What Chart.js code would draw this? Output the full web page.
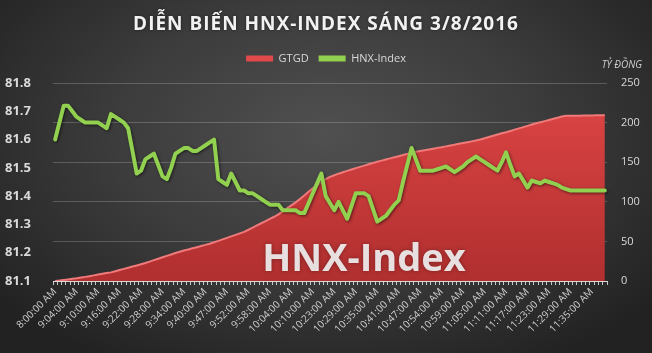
<!DOCTYPE html>
<html>
<head>
<meta charset="utf-8">
<script src="https://cdn.jsdelivr.net/npm/chart.js@4.4.1/dist/chart.umd.min.js"></script>
<style>
  html, body { margin: 0; padding: 0; }
  #wrap {
    width: 652px; height: 353px;
    background: radial-gradient(ellipse 65% 75% at 50% 38%, #505050 0%, #3c3c3c 50%, #222222 100%);
  }
</style>
</head>
<body>
<div id="wrap"><canvas id="chart" width="652" height="353"></canvas></div>
<script>
const chartTitle = "DIỄN BIẾN HNX-INDEX SÁNG 3/8/2016";

const tickLabels = ["8:00:00 AM", "9:04:00 AM", "9:10:00 AM", "9:16:00 AM", "9:22:00 AM", "9:28:00 AM",
  "9:34:00 AM", "9:40:00 AM", "9:47:00 AM", "9:52:00 AM", "9:58:00 AM", "10:04:00 AM", "10:10:00 AM",
  "10:23:00 AM", "10:29:00 AM", "10:35:00 AM", "10:41:00 AM", "10:47:00 AM", "10:54:00 AM", "10:59:00 AM",
  "11:05:00 AM", "11:11:00 AM", "11:17:00 AM", "11:23:00 AM", "11:29:00 AM", "11:35:00 AM"];

// GTGD, ty dong (right axis)
const gtgd = [0, 0.5, 1.2, 2, 2.7, 3.4, 4.3, 5.2, 6.1, 7.1,
  8.1, 9.1, 10, 10.9, 12.4, 13.8, 15.3, 16.7, 18.2, 19.6,
  21.1, 22.7, 24.5, 26.3, 28.1, 29.9, 31.7, 33.5, 35.3, 36.9,
  38.4, 39.8, 41.3, 42.7, 44.2, 45.6, 47.1, 48.9, 50.7, 52.6,
  54.5, 56.3, 58.2, 60.1, 62, 64.7, 67.4, 70.2, 72.9, 75.6,
  78.4, 81.1, 84.1, 88, 91.7, 95.5, 99.3, 103.4, 108, 112.6,
  117, 121, 125, 128.5, 131.5, 133.5, 135.5, 137.3, 139, 140.8,
  142.5, 144.1, 145.7, 147.4, 149, 150.6, 152, 153.4, 154.8, 156.2,
  157.6, 159, 160.4, 161.8, 163.1, 164.1, 165.1, 166.1, 167.1, 168.1,
  169, 170, 171, 172.1, 173.2, 174.2, 175.3, 176.3, 177.4, 178.7,
  180.3, 181.8, 183.4, 184.9, 186.5, 187.9, 189.5, 191.1, 192.7, 194.3,
  195.9, 197.5, 199.1, 200.5, 201.9, 203.3, 204.8, 206.2, 207.6, 208.5,
  208.6, 208.7, 208.8, 208.9, 209, 209.1, 209.2, 209.3, 209.4];

// HNX-Index (left axis)
const hnxIndex = [81.60, 81.66, 81.72, 81.72, 81.70, 81.68, 81.67, 81.66, 81.66, 81.66,
  81.66, 81.65, 81.64, 81.69, 81.68, 81.67, 81.66, 81.64, 81.56, 81.48,
  81.49, 81.53, 81.54, 81.55, 81.51, 81.47, 81.46, 81.50, 81.55, 81.56,
  81.57, 81.57, 81.56, 81.56, 81.57, 81.58, 81.59, 81.60, 81.46, 81.45,
  81.44, 81.48, 81.45, 81.42, 81.42, 81.41, 81.41, 81.40, 81.39, 81.38,
  81.37, 81.37, 81.37, 81.35, 81.35, 81.35, 81.35, 81.34, 81.34, 81.375,
  81.41, 81.445, 81.48, 81.40, 81.375, 81.35, 81.38, 81.35, 81.32, 81.365,
  81.41, 81.41, 81.41, 81.40, 81.355, 81.31, 81.32, 81.33, 81.35, 81.37,
  81.385, 81.45, 81.51, 81.57, 81.53, 81.49, 81.49, 81.49, 81.49, 81.495,
  81.50, 81.505, 81.495, 81.485, 81.495, 81.505, 81.52, 81.53, 81.54, 81.53,
  81.52, 81.51, 81.50, 81.49, 81.52, 81.555, 81.51, 81.47, 81.48, 81.455,
  81.43, 81.455, 81.45, 81.445, 81.455, 81.45, 81.445, 81.44, 81.43, 81.425,
  81.42, 81.42, 81.42, 81.42, 81.42, 81.42, 81.42, 81.42, 81.42];

const indexRange = [81.1, 81.8];
const valueRange = [0, 250];

// one time label every 5 points
const categories = gtgd.map((_, i) => i % 5 === 0 ? tickLabels[i / 5] : "");

const FONT = "'Open Sans', sans-serif";

const overlayText = {
  id: "overlayText",
  beforeInit(chart) {
    // extra room under the legend
    const fit = chart.legend.fit;
    chart.legend.fit = function () {
      fit.call(this);
      this.height += 9;
    };
  },
  beforeDatasetDraw(chart, args) {
    if (args.index === 1) {
      const ctx = chart.ctx;
      ctx.save();
      ctx.shadowColor = "rgba(0,0,0,0.55)";
      ctx.shadowBlur = 3;
      ctx.shadowOffsetX = 1;
      ctx.shadowOffsetY = 1;
    }
  },
  afterDatasetDraw(chart, args) {
    if (args.index === 1) chart.ctx.restore();
    if (args.index === 0) {
      // watermark sits on the red area, under the index line
      const ctx = chart.ctx;
      ctx.save();
      ctx.font = "bold 38px " + FONT;
      ctx.textAlign = "center";
      ctx.textBaseline = "alphabetic";
      ctx.shadowColor = "rgba(0,0,0,0.35)";
      ctx.shadowBlur = 4;
      ctx.fillStyle = "rgba(240,240,240,0.92)";
      ctx.fillText("HNX-Index", 364, 271);
      ctx.restore();
    }
  },
  afterDraw(chart) {
    const ctx = chart.ctx;
    ctx.save();
    ctx.font = "bold 19px " + FONT;
    ctx.letterSpacing = "1px";
    ctx.fillStyle = "#f2f2f2";
    ctx.textAlign = "center";
    ctx.textBaseline = "middle";
    ctx.shadowColor = "rgba(0,0,0,0.5)";
    ctx.shadowBlur = 3;
    ctx.fillText(chartTitle, 326, 25);
    ctx.restore();

    ctx.save();
    ctx.font = "italic 10px " + FONT;
    ctx.fillStyle = "#d0d0d0";
    ctx.textAlign = "right";
    ctx.textBaseline = "middle";
    ctx.fillText("TỶ ĐỒNG", 642, 65);
    ctx.restore();
  }
};

new Chart(document.getElementById("chart"), {
  type: "line",
  data: {
    labels: categories,
    datasets: [{
      label: "GTGD",
      data: gtgd,
      yAxisID: "y1",
      order: 1,
      fill: "origin",
      borderColor: "#f07a7a",
      borderWidth: 2,
      pointRadius: 0,
      tension: 0,
      backgroundColor: (c) => {
        const area = c.chart.chartArea;
        if (!area) return "#cf3b3b";
        const g = c.chart.ctx.createLinearGradient(0, area.top, 0, area.bottom);
        g.addColorStop(0, "#e04646");
        g.addColorStop(1, "#b02f2f");
        return g;
      }
    }, {
      label: "HNX-Index",
      data: hnxIndex,
      yAxisID: "y",
      order: 0,
      borderColor: "#92d050",
      borderWidth: 4,
      borderJoinStyle: "round",
      borderCapStyle: "round",
      pointRadius: 0,
      tension: 0,
      fill: false
    }]
  },
  options: {
    responsive: false,
    animation: false,
    layout: { padding: { top: 43, left: 0, right: 0, bottom: 0 } },
    plugins: {
      title: { display: false },
      legend: {
        display: true,
        position: "top",
        labels: {
          color: "#d9d9d9",
          font: { family: FONT, size: 11 },
          boxWidth: 27,
          boxHeight: 6,
          padding: 10,
          useBorderRadius: true,
          borderRadius: 3,
          generateLabels: () => [
            { text: "GTGD", fillStyle: "#e04a4a", strokeStyle: "#e04a4a", lineWidth: 0, fontColor: "#d9d9d9", datasetIndex: 0 },
            { text: "HNX-Index", fillStyle: "#92d050", strokeStyle: "#92d050", lineWidth: 0, fontColor: "#d9d9d9", datasetIndex: 1 }
          ]
        }
      },
      tooltip: { enabled: false }
    },
    scales: {
      x: {
        offset: true,
        grid: { offset: true, drawOnChartArea: false, color: "#c8c8c8", tickLength: 4 },
        border: { color: "#d9d9d9" },
        ticks: {
          autoSkip: false,
          maxRotation: 45,
          minRotation: 45,
          color: "#d0d0d0",
          padding: 1,
          font: { family: FONT, size: 10 }
        },
        afterFit: (s) => { s.height = 72; }
      },
      y: {
        position: "left",
        min: indexRange[0],
        max: indexRange[1],
        grid: { display: false },
        border: { display: false },
        ticks: {
          stepSize: 0.1,
          color: "#d9d9d9",
          padding: 14,
          font: { family: FONT, size: 13, weight: "bold" },
          callback: (v) => v.toFixed(1)
        },
        afterFit: (s) => { s.width = 53; }
      },
      y1: {
        position: "right",
        min: valueRange[0],
        max: valueRange[1],
        grid: { color: "rgba(255,255,255,0.2)", drawTicks: false },
        border: { display: false },
        ticks: {
          stepSize: 50,
          color: "#d9d9d9",
          padding: 14,
          font: { family: FONT, size: 11 }
        },
        afterFit: (s) => { s.width = 45; }
      }
    }
  },
  plugins: [overlayText]
});
</script>
</body>
</html>
